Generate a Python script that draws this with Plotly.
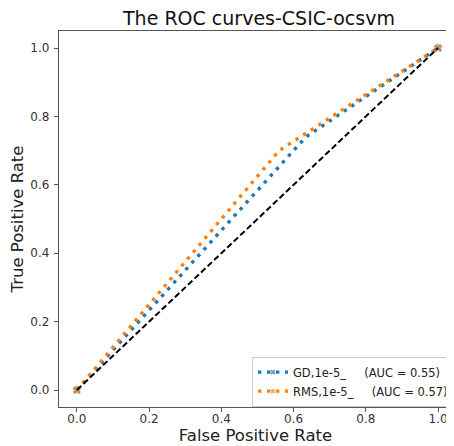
import plotly.graph_objects as go

# Data
gd_fpr = [0.0, 0.634, 1.0]
gd_tpr = [0.0, 0.74, 1.0]
rms_fpr = [0.0, 0.56, 1.0]
rms_tpr = [0.0, 0.70, 1.0]
diag = [0.0, 1.0]
gap = "\u00a0" * 5
gd_label = "GD,1e-5_" + gap + "(AUC = 0.55)"
rms_label = "RMS,1e-5_" + gap + "(AUC = 0.57)"
tick_vals = [0.0, 0.2, 0.4, 0.6, 0.8, 1.0]
tick_text = ["0.0", "0.2", "0.4", "0.6", "0.8", "1.0"]

BLUE = "#1f77b4"
ORANGE = "#ff7f0e"
FONT = "DejaVu Sans"

# the page body adds an 8px offset; compensate in size and margins
W, H = 446, 438

fig = go.Figure()
fig.add_trace(go.Scatter(
    x=gd_fpr, y=gd_tpr, mode="lines+markers", name=gd_label,
    line=dict(color=BLUE, width=3.4, dash="3.4px,5.6px"),
    marker=dict(symbol="x", size=[7, 0, 7], color=BLUE, line=dict(width=0)),
))
fig.add_trace(go.Scatter(
    x=rms_fpr, y=rms_tpr, mode="lines+markers", name=rms_label,
    line=dict(color=ORANGE, width=3.4, dash="3.4px,5.6px"),
    marker=dict(symbol="star", size=[8, 0, 8], color=ORANGE, line=dict(width=0)),
))
fig.add_trace(go.Scatter(
    x=diag, y=diag, mode="lines", showlegend=False,
    line=dict(color="black", width=2, dash="6px,3px"),
))

fig.update_layout(
    width=W, height=H,
    margin=dict(l=51, r=0, t=23, b=39, pad=0),
    paper_bgcolor="white", plot_bgcolor="white",
    font=dict(family=FONT, color="#222"),
    title=dict(text="The ROC curves-CSIC-ocsvm", x=0.5628, xanchor="center",
               y=0.976, yanchor="middle", font=dict(size=19, color="#111")),
    xaxis=dict(range=[-0.0496, 1.0386], tickvals=tick_vals, ticktext=tick_text,
               showgrid=False, zeroline=False, showline=True, linecolor="#555",
               linewidth=1.3, mirror=True, ticks="outside", ticklen=4,
               tickcolor="#555", tickfont=dict(size=12, color="#333"),
               title=dict(text="False Positive Rate", font=dict(size=16.5, color="#222"),
                          standoff=2)),
    yaxis=dict(range=[-0.0497, 1.0497], tickvals=tick_vals, ticktext=tick_text,
               showgrid=False, zeroline=False, showline=True, linecolor="#555",
               linewidth=1.3, ticks="outside", ticklen=4, tickcolor="#555",
               tickfont=dict(size=12, color="#333"),
               title=dict(text="True Positive Rate", font=dict(size=16.5, color="#222"),
                          standoff=5)),
    legend=dict(x=0.491, y=0.134, xanchor="left", yanchor="top",
                bgcolor="rgba(255,255,255,0.9)", bordercolor="#ccc", borderwidth=1,
                font=dict(size=11.5, color="#222"), tracegroupgap=0,
                itemwidth=30),
)

try:
    fig.update_xaxes(ticklabelstandoff=-4)
    fig.update_yaxes(ticklabelstandoff=2)
except Exception:
    pass

fig.write_html("out.html")
